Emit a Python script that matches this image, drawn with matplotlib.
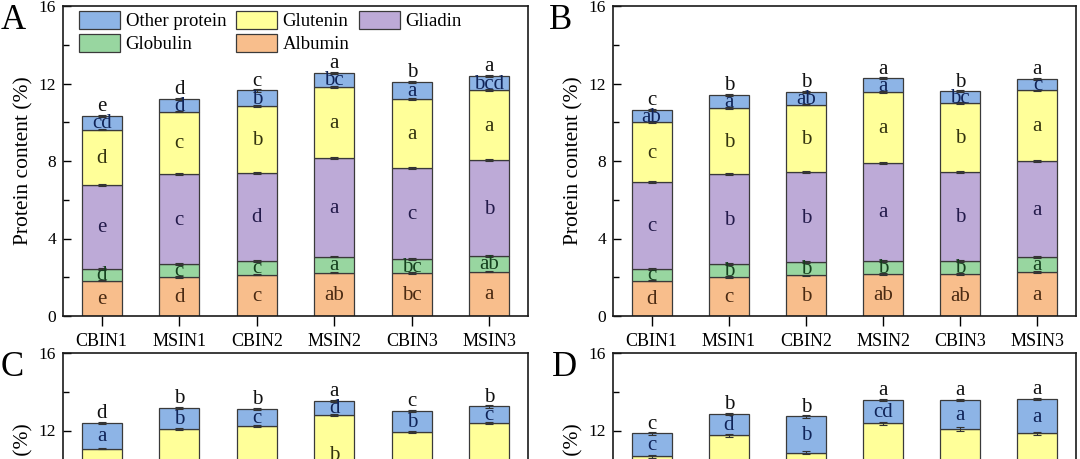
import numpy as np
import matplotlib.pyplot as plt
from matplotlib.ticker import MultipleLocator

plt.rcParams['font.family'] = ['Liberation Serif', 'DejaVu Serif']

groups = ['CBIN1', 'MSIN1', 'CBIN2', 'MSIN2', 'CBIN3', 'MSIN3']
names = ['Albumin', 'Globulin', 'Gliadin', 'Glutenin', 'Other protein']
colors = ['#F8BE8C', '#98D6A0', '#BDAAD7', '#FFFF99', '#8DB4E6']
text_colors = ['#4a2a12', '#15401e', '#231a4a', '#33330f', '#102458']

# ---- panel A ----
albumin_A = [1.83, 2.00, 2.14, 2.24, 2.21, 2.29]
globulin_A = [0.62, 0.66, 0.72, 0.83, 0.72, 0.81]
gliadin_A = [4.31, 4.68, 4.52, 5.07, 4.71, 4.93]
glutenin_A = [2.86, 3.21, 3.46, 3.67, 3.57, 3.63]
other_A = [0.69, 0.64, 0.80, 0.74, 0.86, 0.72]
err_A = [0.04, 0.05, 0.05, 0.04, 0.06]
lab_albumin_A = ['e', 'd', 'c', 'ab', 'bc', 'a']
lab_globulin_A = ['d', 'c', 'c', 'a', 'bc', 'ab']
lab_gliadin_A = ['e', 'c', 'd', 'a', 'c', 'b']
lab_glutenin_A = ['d', 'c', 'b', 'a', 'a', 'a']
lab_other_A = ['cd', 'd', 'b', 'bc', 'a', 'bcd']
lab_total_A = ['e', 'd', 'c', 'a', 'b', 'a']

# ---- panel B ----
albumin_B = [1.83, 2.00, 2.10, 2.17, 2.16, 2.26]
globulin_B = [0.58, 0.66, 0.68, 0.69, 0.70, 0.77]
gliadin_B = [4.49, 4.65, 4.63, 5.02, 4.59, 4.97]
glutenin_B = [3.10, 3.43, 3.50, 3.67, 3.53, 3.64]
other_B = [0.64, 0.67, 0.64, 0.71, 0.61, 0.58]
err_B = [0.04, 0.05, 0.05, 0.04, 0.05]
lab_albumin_B = ['d', 'c', 'b', 'ab', 'ab', 'a']
lab_globulin_B = ['c', 'b', 'b', 'b', 'b', 'a']
lab_gliadin_B = ['c', 'b', 'b', 'a', 'b', 'a']
lab_glutenin_B = ['c', 'b', 'b', 'a', 'b', 'a']
lab_other_B = ['ab', 'a', 'ab', 'a', 'bc', 'c']
lab_total_B = ['c', 'b', 'b', 'a', 'b', 'a']

# ---- panel C (lower part cut off in the figure) ----
albumin_C = [1.90, 2.00, 2.10, 2.20, 2.10, 2.20]
globulin_C = [0.60, 0.70, 0.70, 0.80, 0.70, 0.80]
gliadin_C = [4.60, 5.20, 5.30, 5.76, 5.10, 5.00]
glutenin_C = [3.97, 4.18, 4.15, 4.04, 4.02, 4.39]
other_C = [1.30, 1.09, 0.87, 0.73, 1.10, 0.85]
err_C = [0.04, 0.05, 0.05, 0.05, 0.06]
lab_glutenin_C = ['', '', '', 'b', '', '']
lab_other_C = ['a', 'b', 'c', 'd', 'b', 'c']
lab_total_C = ['d', 'b', 'b', 'a', 'c', 'b']

# ---- panel D (lower part cut off in the figure) ----
albumin_D = [1.90, 2.00, 2.10, 2.20, 2.20, 2.30]
globulin_D = [0.60, 0.70, 0.70, 0.80, 0.80, 0.80]
gliadin_D = [4.50, 4.90, 4.40, 5.20, 5.00, 4.70]
glutenin_D = [3.66, 4.16, 3.66, 4.17, 4.08, 4.05]
other_D = [1.19, 1.09, 1.87, 1.19, 1.48, 1.76]
err_D = [0.04, 0.05, 0.05, 0.08, 0.06]
lab_other_D = ['c', 'd', 'b', 'cd', 'a', 'a']
lab_total_D = ['c', 'b', 'b', 'a', 'a', 'a']

blank = [''] * 6


def draw_panel(ax, stacks, errs, seg_labels, top_labels, legend=False):
    x = np.arange(1, len(groups) + 1)
    bottom = np.zeros(len(groups))
    for vals, err, labs, name, col, tcol in zip(stacks, errs, seg_labels, names, colors, text_colors):
        vals = np.array(vals)
        ax.bar(x, vals, 0.52, bottom=bottom, color=col, edgecolor='#3a3a3a',
               linewidth=0.9, label=name, zorder=2)
        ax.errorbar(x, bottom + vals, yerr=err, fmt='none', ecolor='#333333',
                    elinewidth=0.8, capsize=3, capthick=0.8, zorder=3)
        for xi, b, v, t in zip(x, bottom, vals, labs):
            if t:
                ax.text(xi, b + v / 2 - 0.05, t, ha='center', va='center',
                        fontsize=15, color=tcol, zorder=4)
        bottom = bottom + vals
    for xi, top, t in zip(x, bottom, top_labels):
        ax.text(xi, top + 0.25, t, ha='center', va='baseline', fontsize=15, color='#111111')

    ax.set_xlim(0.5, 6.5)
    ax.set_ylim(0, 16)
    ax.set_xticks(x)
    ax.set_xticklabels(groups)
    ax.yaxis.set_major_locator(MultipleLocator(4))
    ax.yaxis.set_minor_locator(MultipleLocator(2))
    ax.tick_params(axis='y', which='major', direction='in', length=6, width=1, labelsize=12.5, pad=5)
    ax.tick_params(axis='y', which='minor', direction='in', length=4, width=1)
    ax.tick_params(axis='x', direction='out', length=7, width=1, labelsize=13, pad=5)
    for s in ax.spines.values():
        s.set_linewidth(1.2)
        s.set_color('#1a1a1a')
    ax.set_ylabel('Protein content (%)', fontsize=15.5, labelpad=4)

    if legend:
        h, l = ax.get_legend_handles_labels()
        order = [4, 1, 3, 0, 2]
        ax.legend([h[i] for i in order], [l[i] for i in order], ncol=3, loc='upper left',
                  bbox_to_anchor=(0.034, 0.985), frameon=False, fontsize=13.5,
                  handlelength=2.2, handleheight=1.15, handletextpad=0.3,
                  columnspacing=0.5, labelspacing=0.18, borderpad=0, borderaxespad=0)


W, H = 1080, 459
fig = plt.figure(figsize=(W / 100, H / 100), dpi=100)

axA = fig.add_axes([63 / W, (H - 316) / H, 465 / W, 310 / H])
axB = fig.add_axes([613 / W, (H - 316) / H, 463 / W, 310 / H])
axC = fig.add_axes([63 / W, (H - 663) / H, 465 / W, 310 / H])
axD = fig.add_axes([613 / W, (H - 663) / H, 463 / W, 310 / H])

draw_panel(axA, [albumin_A, globulin_A, gliadin_A, glutenin_A, other_A], err_A,
           [lab_albumin_A, lab_globulin_A, lab_gliadin_A, lab_glutenin_A, lab_other_A],
           lab_total_A, legend=True)
draw_panel(axB, [albumin_B, globulin_B, gliadin_B, glutenin_B, other_B], err_B,
           [lab_albumin_B, lab_globulin_B, lab_gliadin_B, lab_glutenin_B, lab_other_B],
           lab_total_B)
draw_panel(axC, [albumin_C, globulin_C, gliadin_C, glutenin_C, other_C], err_C,
           [blank, blank, blank, lab_glutenin_C, lab_other_C], lab_total_C)
draw_panel(axD, [albumin_D, globulin_D, gliadin_D, glutenin_D, other_D], err_D,
           [blank, blank, blank, blank, lab_other_D], lab_total_D)

for lab, px, py in [('A', 1, 29), ('B', 549, 29), ('C', 1, 376), ('D', 552, 376)]:
    fig.text(px / W, 1 - py / H, lab, fontsize=25, va='baseline', ha='left')

fig.savefig('out.png', dpi=100)
